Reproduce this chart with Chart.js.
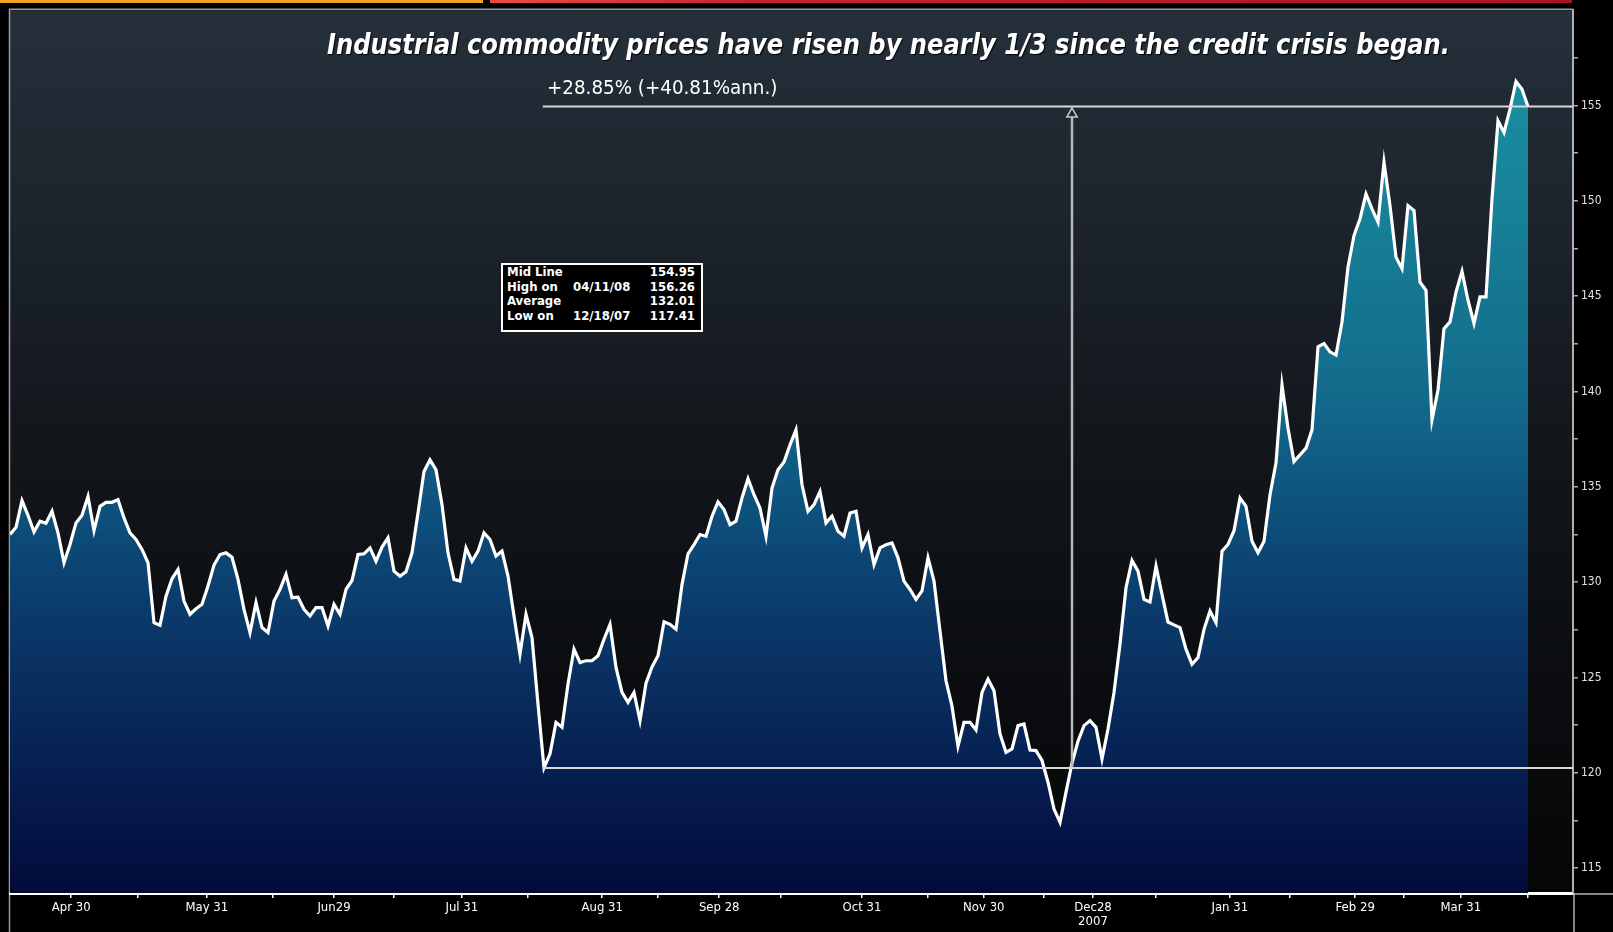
<!DOCTYPE html>
<html>
<head>
<meta charset="utf-8">
<script src="https://cdn.jsdelivr.net/npm/chart.js@4"></script>
<style>
  html, body { margin:0; padding:0; background:#000; overflow:hidden; }
  #wrap { position:relative; width:1613px; height:932px; background:#000; }
  #c { position:absolute; left:0; top:0; }
  .nf { font-family:"Liberation Sans Narrow","DejaVu Sans Condensed","Arial Narrow",sans-serif; }
  #title { position:absolute; left:327px; top:27px; color:#fff; font-size:29px; font-weight:bold; font-style:italic;
           white-space:nowrap; transform-origin:0 0; text-shadow:1px 1px 1px #000; line-height:34px; }
  #ann { position:absolute; left:547px; top:76px; color:#fff; font-size:19px; white-space:nowrap; transform-origin:0 0; line-height:22px; }
  #stats { position:absolute; left:501px; top:263px; width:198px; height:65px; background:#000; border:2px solid #fff;
           color:#fff; font-size:13px; font-weight:bold; line-height:14.5px; }
  #stats .row { position:relative; height:14.5px; }
  #stats .l { position:absolute; left:4px; }
  #stats .d { position:absolute; left:70px; }
  #stats .v { position:absolute; right:6px; }
</style>
</head>
<body>
<div id="wrap">
  <canvas id="c" width="1613" height="932"></canvas>
  <div id="title" class="nf">Industrial commodity prices have risen by nearly 1/3 since the credit crisis began.</div>
  <div id="ann" class="nf">+28.85% (+40.81%ann.)</div>
  <div id="stats" class="nf"></div>
</div>
<script>
// ---- data (one value per business day, from mid-April 2007 to 04/11/2008) ----
const values = [
132.50,132.88,134.28,133.51,132.64,133.20,133.09,133.72,132.59,131.02,
131.98,133.11,133.51,134.50,132.71,133.98,134.19,134.19,134.33,133.37,
132.59,132.24,131.72,131.02,127.88,127.74,129.27,130.18,130.67,129.01,
128.32,128.61,128.84,129.80,130.90,131.45,131.54,131.31,130.15,128.58,
127.36,128.93,127.62,127.36,129.01,129.62,130.41,129.19,129.22,128.58,
128.23,128.67,128.67,127.71,128.84,128.32,129.62,130.09,131.45,131.49,
131.80,131.10,131.84,132.33,130.58,130.32,130.55,131.54,133.63,135.81,
136.42,135.90,134.07,131.54,130.15,130.06,131.80,131.10,131.63,132.59,
132.24,131.37,131.63,130.32,128.23,126.22,128.32,127.10,123.61,120.26,
121.00,122.65,122.39,124.66,126.49,125.79,125.88,125.88,126.14,127.01,
127.79,125.53,124.22,123.70,124.22,122.74,124.70,125.56,126.14,127.93,
127.79,127.53,129.88,131.49,131.97,132.50,132.41,133.46,134.21,133.81,
133.02,133.20,134.42,135.43,134.59,133.89,132.41,134.94,135.90,136.30,
137.20,137.99,135.11,133.72,134.07,134.76,133.11,133.46,132.67,132.41,
133.63,133.72,131.80,132.50,130.93,131.80,131.97,132.06,131.28,130.06,
129.62,129.10,129.54,131.28,130.06,127.44,124.83,123.50,121.40,122.65,
122.65,122.25,124.22,124.92,124.31,122.04,121.08,121.26,122.48,122.56,
121.20,121.17,120.65,119.51,118.10,117.41,118.99,120.51,121.66,122.48,
122.74,122.39,120.73,122.30,124.22,126.75,129.71,131.14,130.58,129.10,
128.96,130.84,129.36,127.91,127.76,127.62,126.49,125.70,126.05,127.53,
128.49,127.88,131.63,131.98,132.70,134.42,133.98,132.15,131.54,132.15,
134.59,136.25,140.34,138.07,136.33,136.68,137.03,137.99,142.35,142.52,
142.08,141.91,143.65,146.53,148.18,149.06,150.36,149.58,148.88,152.02,
149.75,147.05,146.44,149.75,149.49,145.74,145.31,138.51,140.08,143.30,
143.65,145.22,146.30,144.79,143.57,144.96,144.96,150.10,154.20,153.59,
154.81,156.26,155.85,154.95
];
const xTickPos    = [10.2, 21.3, 32.8, 43.8, 54, 64, 75.3, 86.3, 98.7, 108, 118.2, 128.5, 142, 153, 162.3, 172.3, 180.5, 191, 203.3, 213.3, 224.2, 232.3, 241.8, 253];
const xTickLabels = ['Apr 30','','May 31','','Jun29','','Jul 31','','Aug 31','','Sep 28','','Oct 31','','Nov 30','',['Dec28','2007'],'','Jan 31','','Feb 29','','Mar 31',''];
const yTickPos    = [115,117.5,120,122.5,125,127.5,130,132.5,135,137.5,140,142.5,145,147.5,150,152.5,155,157.5];
const yTickLabels = ['115','','120','','125','','130','','135','','140','','145','','150','','155',''];
const midLine = 154.95;
const baseLine = 120.26;
const lowIdx = 88.8;      // start of the reference lines (August low)
const arrowIdx = 177;     // position of the change arrow
const statLabels = ['Mid Line','High on','Average','Low on'];
const statDates  = ['','04/11/08','','12/18/07'];
const statValues = ['154.95','156.26','132.01','117.41'];

// ---- stats box ----
const sb = document.getElementById('stats');
statLabels.forEach((l,i)=>{
  const r = document.createElement('div'); r.className='row';
  r.innerHTML = `<span class="l">${l}</span><span class="d">${statDates[i]}</span><span class="v">${statValues[i]}</span>`;
  sb.appendChild(r);
});
// fit title/annotation widths
function fitW(id, w){ const el=document.getElementById(id); const cw=el.scrollWidth; el.style.transform=`scaleX(${w/cw})`; }
fitW('title', 1123);
fitW('ann', 230);

const FONT = '"Liberation Sans Narrow","DejaVu Sans Condensed","Arial Narrow",sans-serif';

const bgPlugin = {
  id:'bg',
  beforeDraw(chart){
    const ctx = chart.ctx, a = chart.chartArea;
    ctx.save();
    ctx.fillStyle = '#000'; ctx.fillRect(0,0,chart.width,chart.height);
    // top strip
    ctx.fillStyle = '#f2a428'; ctx.fillRect(0,0,483,3);
    const rg = ctx.createLinearGradient(490,0,1572,0);
    rg.addColorStop(0,'#ee4a44'); rg.addColorStop(0.25,'#c8202c'); rg.addColorStop(1,'#a81424');
    ctx.fillStyle = rg; ctx.fillRect(490,0,1082,3);
    // panel background
    const g = ctx.createLinearGradient(0,a.top,0,a.bottom);
    g.addColorStop(0,'#25303b'); g.addColorStop(0.25,'#1c232b'); g.addColorStop(0.5,'#12161b');
    g.addColorStop(0.75,'#0b0d10'); g.addColorStop(1,'#050607');
    ctx.fillStyle = g; ctx.fillRect(a.left,a.top,a.right-a.left,a.bottom-a.top);
    // panel border
    ctx.strokeStyle = '#9a9a9a'; ctx.lineWidth = 1.5;
    ctx.beginPath(); ctx.moveTo(a.left-0.5, chart.height); ctx.lineTo(a.left-0.5, a.top-1); ctx.lineTo(a.right, a.top-1); ctx.stroke();
    ctx.strokeStyle = '#b0b0b0';
    ctx.beginPath(); ctx.moveTo(a.right, a.bottom+1); ctx.lineTo(chart.width, a.bottom+1); ctx.moveTo(a.right+1, a.bottom); ctx.lineTo(a.right+1, chart.height); ctx.stroke();
    ctx.restore();
  }
};

function fillGrad(c){
  const a = c.chart.chartArea; if(!a) return '#0b3a66';
  const g = c.chart.ctx.createLinearGradient(0,a.top,0,a.bottom);
  g.addColorStop(0.00,'#1b9aac');
  g.addColorStop(0.11,'#198c9e');
  g.addColorStop(0.43,'#136c8c');
  g.addColorStop(0.54,'#0e5680');
  g.addColorStop(0.645,'#0b4170');
  g.addColorStop(0.755,'#092f60');
  g.addColorStop(0.865,'#061e50');
  g.addColorStop(0.97,'#040f40');
  g.addColorStop(1.00,'#030b38');
  return g;
}

new Chart(document.getElementById('c'), {
  type:'line',
  data:{
    datasets:[
      { data: values.map((v,i)=>({x:i,y:v})), borderColor:'#ffffff', borderWidth:3.2, pointRadius:0,
        fill:'start', backgroundColor: fillGrad, tension:0, order:3 },
      { data:[{x:lowIdx,y:midLine},{x:260.5,y:midLine}], borderColor:'#d8d8d8', borderWidth:2, pointRadius:0, fill:false, order:1 },
      { data:[{x:lowIdx,y:baseLine},{x:260.5,y:baseLine}], borderColor:'#d8d8d8', borderWidth:2, pointRadius:0, fill:false, order:1 },
      { data:[{x:arrowIdx,y:baseLine},{x:arrowIdx,y:154.55}], borderColor:'#b8b8b8', borderWidth:2.5,
        pointRadius:[0,6], pointStyle:'triangle', pointBackgroundColor:'#1e2630', pointBorderColor:'#c8c8c8', pointBorderWidth:1.5, fill:false, order:2 }
    ]
  },
  options:{
    responsive:false, animation:false, devicePixelRatio:1,
    layout:{ padding:{ left:10, top:8, right:0, bottom:0 } },
    plugins:{ legend:{display:false}, tooltip:{enabled:false}, title:{display:false} },
    scales:{
      x:{ type:'linear', min:0, max:260.5, position:'bottom',
          afterFit(s){ s.height = 39; },
          afterBuildTicks(s){ s.ticks = xTickPos.map(v=>({value:v})); },
          grid:{ display:true, drawOnChartArea:false, drawTicks:true, tickLength:5, color:'#ffffff', lineWidth:1.5 },
          border:{ display:true, color:'#ffffff', width:3 },
          ticks:{ autoSkip:false, maxRotation:0, minRotation:0, padding:2, color:'#ffffff',
                  font:{ family:FONT, size:13, lineHeight:1.1 },
                  callback:(v,i)=> xTickLabels[i] }
      },
      y:{ position:'right', min:113.7, max:160,
          afterFit(s){ s.width = 40; },
          afterBuildTicks(s){ s.ticks = yTickPos.map(v=>({value:v})); },
          grid:{ display:true, drawOnChartArea:false, drawTicks:true, tickLength:5, color:'#a8a8a8', lineWidth:1.5 },
          border:{ display:true, color:'#b0b0b0', width:2 },
          ticks:{ padding:3, color:'#e0e0e0', font:{ family:FONT, size:12 }, callback:(v,i)=> yTickLabels[i] }
      }
    }
  },
  plugins:[bgPlugin]
});
</script>
</body>
</html>
